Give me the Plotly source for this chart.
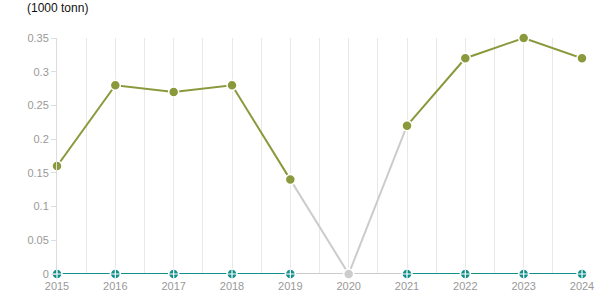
import plotly.graph_objects as go

years = [2015, 2016, 2017, 2018, 2019, 2020, 2021, 2022, 2023, 2024]
olive_values = [0.16, 0.28, 0.27, 0.28, 0.14, None, 0.22, 0.32, 0.35, 0.32]
teal_values = [0, 0, 0, 0, 0, None, 0, 0, 0, 0]
y_ticks = [0, 0.05, 0.1, 0.15, 0.2, 0.25, 0.3, 0.35]
y_labels = ["0", "0.05", "0.1", "0.15", "0.2", "0.25", "0.3", "0.35"]
unit_label = "(1000 tonn)"

OLIVE = "#8b993d"
TEAL = "#11908a"
GREY = "#cccccc"

fig = go.Figure()


def gap_segments(vals):
    xs, ys = [], []
    for i, v in enumerate(vals):
        if v is None and 0 < i < len(vals) - 1:
            xs += [years[i - 1], years[i], years[i + 1], None]
            ys += [vals[i - 1], 0, vals[i + 1], None]
    return xs, ys


# grey connectors for missing values
for vals in (olive_values, teal_values):
    gx, gy = gap_segments(vals)
    fig.add_trace(go.Scatter(x=gx, y=gy, mode="lines", line=dict(color=GREY, width=2),
                             hoverinfo="skip", showlegend=False, cliponaxis=False))

missing_x = [years[i] for i, v in enumerate(olive_values) if v is None]
fig.add_trace(go.Scatter(x=missing_x, y=[0] * len(missing_x), mode="markers",
                         marker=dict(color=GREY, size=10, line=dict(color="white", width=1.5)),
                         showlegend=False, cliponaxis=False))

for vals, col in ((teal_values, TEAL), (olive_values, OLIVE)):
    fig.add_trace(go.Scatter(x=years, y=vals, mode="lines+markers",
                             line=dict(color=col, width=2),
                             marker=dict(color=col, size=10, line=dict(color="white", width=1.5)),
                             connectgaps=False, showlegend=False, cliponaxis=False))

# small white cross on zero markers
cx = [y for y, v in zip(years, teal_values) if v is not None]
fig.add_trace(go.Scatter(x=cx, y=[0] * len(cx), mode="markers",
                         marker=dict(symbol="cross-thin", size=6, line=dict(color="white", width=1.2)),
                         showlegend=False, cliponaxis=False, hoverinfo="skip"))

fig.update_layout(
    width=615, height=305,
    margin=dict(l=57, r=33, t=38, b=31),
    paper_bgcolor="white", plot_bgcolor="white",
    font=dict(family="Arial, Liberation Sans, sans-serif", size=11, color="#999999"),
    xaxis=dict(range=[2015, 2024], tickvals=years, ticktext=[str(y) for y in years],
               showgrid=True, gridcolor="#e8e8e8", gridwidth=1,
               minor=dict(dtick=0.5, tick0=2015, showgrid=True, gridcolor="#e8e8e8"),
               zeroline=False, showline=False, ticks="", ticklabelstandoff=4,
               tickfont=dict(size=11, color="#999999")),
    yaxis=dict(range=[0, 0.35], tickvals=y_ticks, ticktext=y_labels,
               showgrid=False, zeroline=False, showline=True, linecolor="#dddddd", linewidth=1,
               ticks="outside", ticklen=5, tickcolor="#dddddd",
               tickfont=dict(size=11, color="#999999")),
    annotations=[dict(text=unit_label, xref="paper", yref="paper", x=-57 / 525 + 25 / 525,
                      y=1, yshift=30, xanchor="left", yanchor="middle", showarrow=False,
                      font=dict(size=12, color="#111111"))],
)

fig.write_html("out.html")
